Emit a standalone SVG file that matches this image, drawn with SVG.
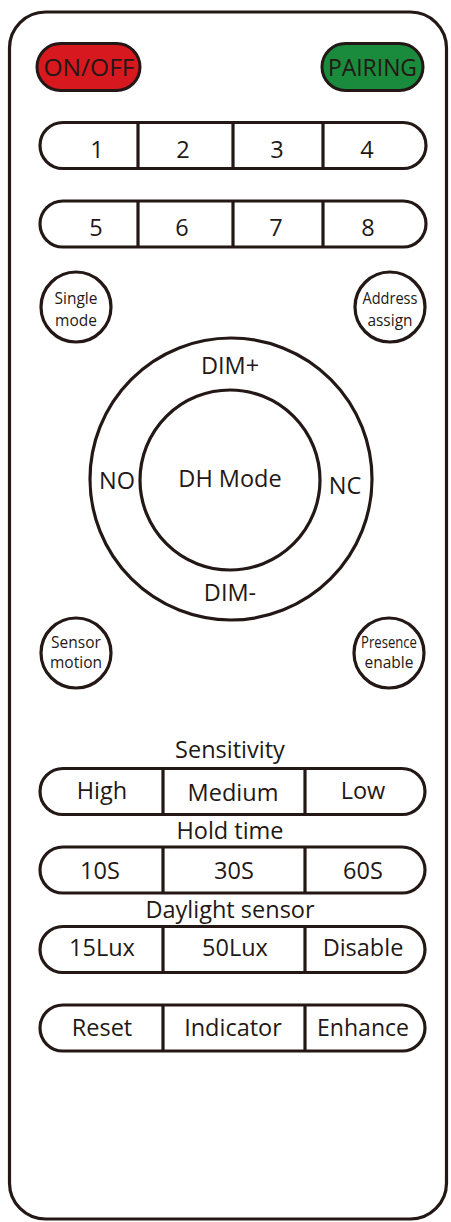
<svg xmlns="http://www.w3.org/2000/svg" width="451" height="1222" viewBox="0 0 451 1222">
<style>
.ln{fill:none;stroke:#231815;stroke-width:3.2}
.bt{fill:#fff;stroke:#231815;stroke-width:3.2}
.t{font-family:"Open Sans","Noto Sans",sans-serif;fill:#231815;text-anchor:middle}
.l{font-size:23.5px}
.s{font-size:15.5px}
</style>
<rect width="451" height="1222" fill="#fff"/>
<g id="body"><rect x="9.5" y="12" width="437" height="1207" rx="36" class="ln" stroke-width="3.5"/></g>
<g id="onoff"><rect x="37" y="43.5" width="103" height="47" rx="23.5" fill="#d7191f" stroke="#231815" stroke-width="3"/><text class="t l" x="89" y="76" textLength="91" lengthAdjust="spacingAndGlyphs">ON/OFF</text></g>
<g id="pairing"><rect x="322" y="43.5" width="101" height="47" rx="23.5" fill="#1a8a3c" stroke="#231815" stroke-width="3"/><text class="t l" x="372.5" y="76" textLength="89" lengthAdjust="spacingAndGlyphs">PAIRING</text></g>
<g id="row1"><rect x="40" y="122.5" width="386" height="46" rx="23" class="bt"/><path d="M138 122.5V168.5M233 122.5V168.5M323 122.5V168.5" class="ln"/>
<text class="t l" x="97" y="158">1</text><text class="t l" x="183" y="158">2</text><text class="t l" x="277" y="158">3</text><text class="t l" x="367" y="158">4</text></g>
<g id="row2"><rect x="40" y="201" width="386" height="46" rx="23" class="bt"/><path d="M138 201V247M233 201V247M323 201V247" class="ln"/>
<text class="t l" x="96" y="236">5</text><text class="t l" x="182" y="236">6</text><text class="t l" x="276" y="236">7</text><text class="t l" x="368" y="236">8</text></g>
<g id="single"><circle cx="76" cy="307" r="35" class="bt"/><text class="t s" x="76" y="304">Single</text><text class="t s" x="76" y="326">mode</text></g>
<g id="address"><circle cx="390" cy="307" r="35" class="bt"/><text class="t s" x="390" y="304" textLength="55" lengthAdjust="spacingAndGlyphs">Address</text><text class="t s" x="390" y="326">assign</text></g>
<g id="dial"><circle cx="231" cy="479" r="141" class="bt"/><text class="t l" x="230" y="374">DIM+</text><text class="t l" x="230" y="601">DIM-</text><text class="t l" x="117" y="489">NO</text><text class="t l" x="345" y="494">NC</text></g>
<g id="dhmode"><circle cx="230" cy="480" r="90" class="bt"/><text class="t l" x="230" y="487">DH Mode</text></g>
<g id="sensor"><circle cx="76" cy="653" r="35" class="bt"/><text class="t s" x="76" y="648">Sensor</text><text class="t s" x="76" y="668">motion</text></g>
<g id="presence"><circle cx="389" cy="653" r="35" class="bt"/><text class="t s" x="389" y="648" textLength="56" lengthAdjust="spacingAndGlyphs">Presence</text><text class="t s" x="389" y="668">enable</text></g>
<g id="sensitivity"><text class="t l" x="230" y="758">Sensitivity</text><rect x="40" y="768.5" width="385" height="46" rx="23" class="bt"/><path d="M163 768.5V814.5M305 768.5V814.5" class="ln"/>
<text class="t l" x="102" y="799">High</text><text class="t l" x="233" y="801">Medium</text><text class="t l" x="363" y="799">Low</text></g>
<g id="hold"><text class="t l" x="230" y="839">Hold time</text><rect x="40" y="847" width="385" height="46" rx="23" class="bt"/><path d="M163 847V893M305 847V893" class="ln"/>
<text class="t l" x="100" y="879">10S</text><text class="t l" x="234" y="879">30S</text><text class="t l" x="363" y="879">60S</text></g>
<g id="daylight"><text class="t l" x="230" y="918">Daylight sensor</text><rect x="40" y="926.5" width="385" height="46" rx="23" class="bt"/><path d="M163 926.5V972.5M305 926.5V972.5" class="ln"/>
<text class="t l" x="102" y="956">15Lux</text><text class="t l" x="235" y="956">50Lux</text><text class="t l" x="363" y="956">Disable</text></g>
<g id="misc"><rect x="40" y="1005" width="385" height="46" rx="23" class="bt"/><path d="M163 1005V1051M305 1005V1051" class="ln"/>
<text class="t l" x="102" y="1036">Reset</text><text class="t l" x="233" y="1036">Indicator</text><text class="t l" x="363" y="1036" textLength="92" lengthAdjust="spacingAndGlyphs">Enhance</text></g>
</svg>
